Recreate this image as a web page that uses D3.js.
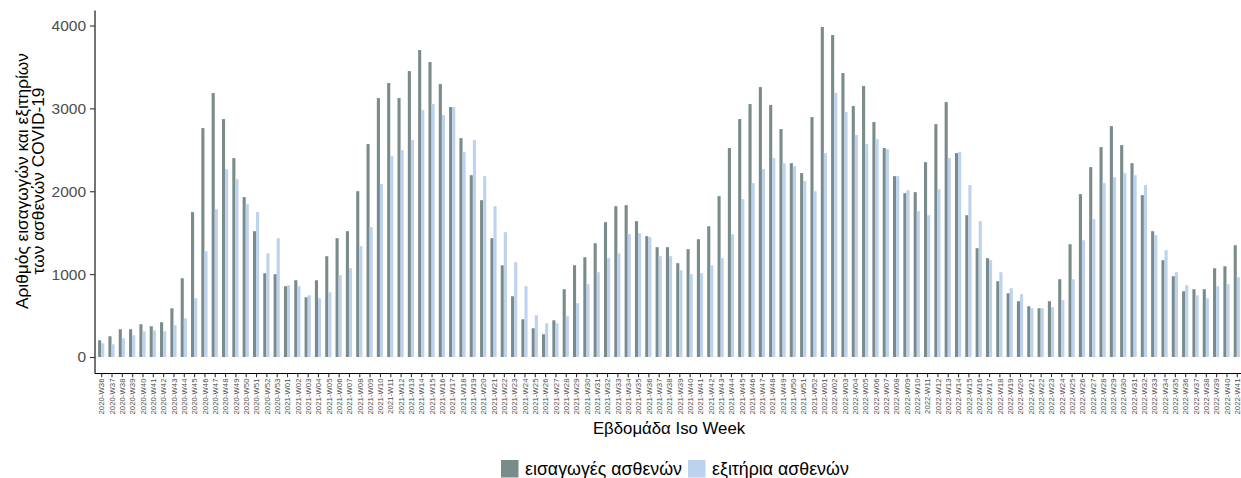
<!DOCTYPE html>
<html>
<head>
<meta charset="utf-8">
<script src="https://cdn.jsdelivr.net/npm/d3@7"></script>
<style>
  body { margin: 0; background: #fff; }
  text { font-family: "Liberation Sans", Arial, sans-serif; }
</style>
</head>
<body>
<div id="chart-container"></div>
<script>

// iso weeks on the x axis
const weeks = [
  '2020-W36','2020-W37','2020-W38','2020-W39','2020-W40','2020-W41','2020-W42','2020-W43','2020-W44',
  '2020-W45','2020-W46','2020-W47','2020-W48','2020-W49','2020-W50','2020-W51','2020-W52','2020-W53',
  '2021-W01','2021-W02','2021-W03','2021-W04','2021-W05','2021-W06','2021-W07','2021-W08','2021-W09',
  '2021-W10','2021-W11','2021-W12','2021-W13','2021-W14','2021-W15','2021-W16','2021-W17','2021-W18',
  '2021-W19','2021-W20','2021-W21','2021-W22','2021-W23','2021-W24','2021-W25','2021-W26','2021-W27',
  '2021-W28','2021-W29','2021-W30','2021-W31','2021-W32','2021-W33','2021-W34','2021-W35','2021-W36',
  '2021-W37','2021-W38','2021-W39','2021-W40','2021-W41','2021-W42','2021-W43','2021-W44','2021-W45',
  '2021-W46','2021-W47','2021-W48','2021-W49','2021-W50','2021-W51','2021-W52',
  '2022-W01','2022-W02','2022-W03','2022-W04','2022-W05','2022-W06','2022-W07','2022-W08','2022-W09',
  '2022-W10','2022-W11','2022-W12','2022-W13','2022-W14','2022-W15','2022-W16','2022-W17','2022-W18',
  '2022-W19','2022-W20','2022-W21','2022-W22','2022-W23','2022-W24','2022-W25','2022-W26','2022-W27',
  '2022-W28','2022-W29','2022-W30','2022-W31','2022-W32','2022-W33','2022-W34','2022-W35','2022-W36',
  '2022-W37','2022-W38','2022-W39','2022-W40','2022-W41'
]

// εισαγωγές ασθενών
const admissions = [
  202, 250, 335, 335, 395, 371, 419, 588, 950, 1748, 2762, 3185, 2871, 2400, 1929, 1518, 1011, 999,
  854, 926, 721, 926, 1216, 1434, 1518, 2001, 2569, 3124, 3306, 3124, 3450, 3704, 3559, 3293, 3016, 2641,
  2194, 1892, 1434, 1107, 733, 455, 347, 274, 443, 818, 1107, 1204, 1373, 1627, 1820, 1832, 1639, 1458,
  1325, 1325, 1132, 1301, 1421, 1578, 1941, 2521, 2871, 3052, 3257, 3040, 2750, 2339, 2219, 2895,
  3982, 3885, 3426, 3028, 3269, 2835, 2521, 2182, 1977, 1989, 2351, 2810, 3076, 2460, 1711, 1313, 1192, 914,
  769, 673, 612, 588, 673, 938, 1361, 1965, 2291, 2533, 2786, 2557, 2339, 1953, 1518, 1168, 975, 793,
  818, 818, 1071, 1095, 1349
]

// εξιτήρια ασθενών
const discharges = [
  165, 153, 226, 262, 310, 322, 310, 383, 467, 709, 1277, 1784, 2267, 2146, 1844, 1748, 1252, 1434,
  866, 854, 745, 709, 781, 987, 1071, 1337, 1566, 2086, 2424, 2496, 2617, 2979, 3052, 2919, 3016, 2472,
  2617, 2182, 1820, 1506, 1144, 854, 504, 407, 407, 492, 649, 878, 1023, 1192, 1252, 1482, 1494, 1446,
  1216, 1216, 1047, 999, 1011, 1107, 1192, 1482, 1905, 2098, 2267, 2400, 2339, 2303, 2122, 2001,
  2460, 3185, 2955, 2678, 2569, 2629, 2508, 2182, 2013, 1760, 1711, 2025, 2400, 2472, 2074, 1639, 1168, 1023,
  830, 757, 588, 588, 600, 685, 938, 1409, 1663, 2098, 2170, 2219, 2194, 2074, 1470, 1289, 1023, 866,
  745, 709, 854, 878, 963
]

const seriesNames = ['εισαγωγές ασθενών', 'εξιτήρια ασθενών']
const yTicks = [0, 1000, 2000, 3000, 4000]

const width = 1241
const height = 478
const colors = ['#7a8b8b', '#bcd2ee']

const padLeft = 95, padRight = 1243, padTop = 10.5, padBottom = 373.5

// same 5% expansion that the original plot uses
const maxVal = d3.max(admissions.concat(discharges))
const pad = maxVal * 0.05

let xScale = d3.scalePoint()
    .domain(weeks)
    .range([padLeft, padRight])
    .padding(0.6)

let dodge = d3.scaleBand()
    .domain(seriesNames)
    .range([-xScale.step() * 0.3, xScale.step() * 0.3])

let yScale = d3.scaleLinear()
    .domain([-pad, maxVal + pad])
    .range([padBottom, padTop])

const svg = d3.select('#chart-container')
    .append('svg')
    .attr('width', width)
    .attr('height', height)

const rows = weeks.map((w, i) => ({ week: w, values: [admissions[i], discharges[i]] }))

svg.append('g')
    .selectAll('g')
    .data(rows)
    .enter()
    .append('g')
    .attr('transform', d => 'translate(' + xScale(d.week) + ',0)')
    .selectAll('rect')
    .data(d => d.values.map((v, k) => ({ key: seriesNames[k], value: v, k: k })))
    .enter()
    .append('rect')
    .attr('x', d => dodge(d.key))
    .attr('y', d => yScale(d.value))
    .attr('width', dodge.bandwidth())
    .attr('height', d => yScale(0) - yScale(d.value))
    .attr('fill', d => colors[d.k])

// y axis
let yAxis = d3.axisLeft(yScale)
    .tickValues(yTicks)
    .tickFormat(d3.format('d'))
    .tickSize(5)
    .tickPadding(4)

const gy = svg.append('g')
    .attr('transform', 'translate(' + padLeft + ',0)')
    .call(yAxis)
gy.select('.domain').attr('d', 'M0,' + padTop + 'V' + padBottom).attr('stroke', '#000').attr('stroke-width', 1.1)
gy.selectAll('.tick line').attr('stroke', '#333').attr('stroke-width', 1.1)
gy.selectAll('.tick text')
    .attr('font-size', 15.5)
    .attr('fill', '#4d4d4d')
    .attr('font-family', '"Liberation Sans", Arial, sans-serif')

// x axis
let xAxis = d3.axisBottom(xScale)
    .tickSize(3.7)

const gx = svg.append('g')
    .attr('transform', 'translate(0,' + padBottom + ')')
    .call(xAxis)
gx.select('.domain').attr('d', 'M' + padLeft + ',0H' + width).attr('stroke', '#000').attr('stroke-width', 1.1)
gx.selectAll('.tick line').attr('stroke', '#333').attr('stroke-width', 1.1)
gx.selectAll('.tick text')
    .attr('font-size', 7.8)
    .attr('fill', '#4d4d4d')
    .attr('font-family', '"Liberation Sans", Arial, sans-serif')
    .attr('text-anchor', 'end')
    .attr('transform', 'rotate(-90)')
    .attr('x', -5)
    .attr('y', 0)
    .attr('dy', '0.35em')

// axis titles
svg.append('text')
    .attr('x', (padLeft + padRight) / 2)
    .attr('y', 434)
    .attr('text-anchor', 'middle')
    .attr('font-size', 16.8)
    .attr('fill', '#000')
    .text('Εβδομάδα Iso Week')

const yTitle = svg.append('text')
    .attr('transform', 'translate(28,181) rotate(-90)')
    .attr('text-anchor', 'middle')
    .attr('font-size', 17.3)
    .attr('fill', '#000')
yTitle.append('tspan').attr('x', 0).attr('y', 0).text('Αριθμός εισαγωγών και εξιτηρίων')
yTitle.append('tspan').attr('x', 0).attr('y', 16).text('των ασθενών COVID-19')

// legend
const legendX = [501, 688]
const legend = svg.append('g')
    .selectAll('g')
    .data(seriesNames)
    .enter()
    .append('g')
    .attr('transform', (d, i) => 'translate(' + legendX[i] + ',460)')

legend.append('rect')
    .attr('width', 17.5)
    .attr('height', 17.5)
    .attr('fill', (d, i) => colors[i])

legend.append('text')
    .attr('x', 24)
    .attr('y', 14.8)
    .attr('font-size', 17.8)
    .attr('fill', '#000')
    .text(d => d)

</script>
</body>
</html>
